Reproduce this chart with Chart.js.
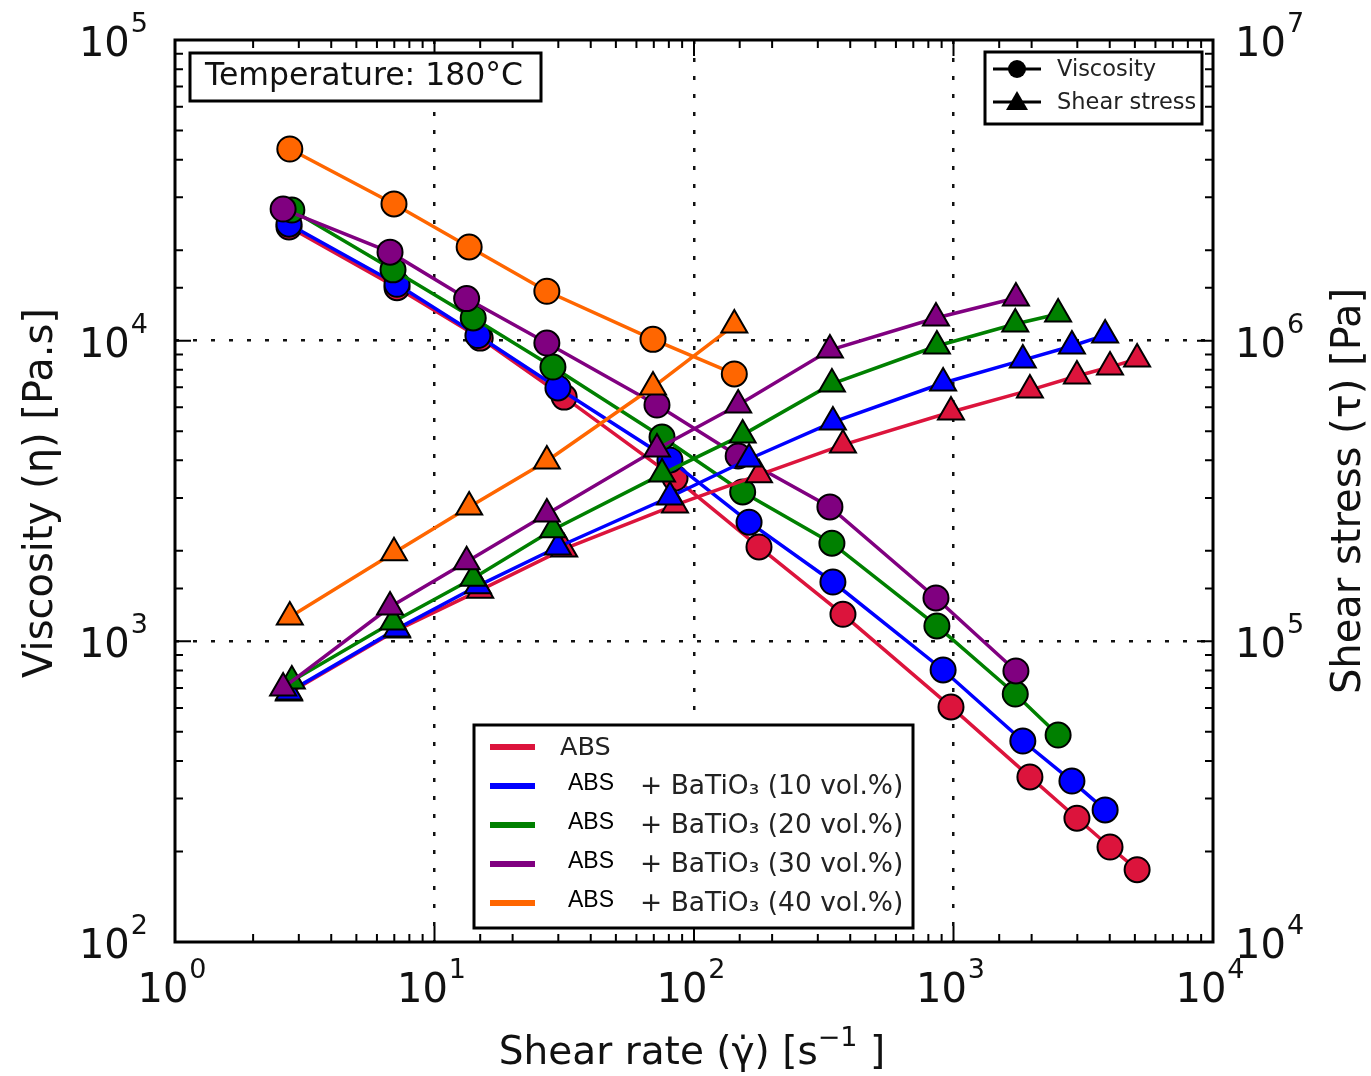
<!DOCTYPE html>
<html>
<head>
<meta charset="utf-8">
<script src="https://cdn.jsdelivr.net/npm/chart.js@4/dist/chart.umd.min.js"></script>
<style>
  html, body { margin: 0; padding: 0; background: #fff; }
  #wrap { width: 1371px; height: 1076px; }
</style>
</head>
<body>
<div id="wrap"><canvas id="rheoChart" width="1371" height="1076"></canvas></div>
<script>
// --- data (180 °C capillary rheometry) ---
const materials = ['ABS', 'ABS + BaTiO₃ (10 vol.%)', 'ABS + BaTiO₃ (20 vol.%)', 'ABS + BaTiO₃ (30 vol.%)', 'ABS + BaTiO₃ (40 vol.%)'];
const colors = ['#DC143C', '#0000FF', '#008000', '#800080', '#FF6600'];

// shear rate [1/s]
const rateAbs   = [2.75, 7.17, 15.0, 31.6, 84.5, 178, 375, 978, 1970, 2990, 4010, 5100];
const rate10    = [2.75, 7.17, 14.7, 29.9, 80.8, 163, 343, 912, 1850, 2860, 3840];
const rate20    = [2.82, 6.92, 14.1, 28.6, 75.3, 154, 340, 863, 1730, 2530];
const rate30    = [2.61, 6.74, 13.3, 27.1, 72.0, 148, 334, 856, 1740];
const rate40    = [2.77, 6.98, 13.6, 27.1, 69.5, 143];

// viscosity [Pa.s]
const viscAbs   = [23900, 15000, 10200, 6490, 3490, 2060, 1230, 605, 354, 258, 207, 174];
const visc10    = [24400, 15400, 10400, 6960, 4010, 2490, 1575, 803, 466, 343, 275];
const visc20    = [27200, 17200, 11900, 8170, 4780, 3140, 2120, 1125, 668, 488];
const visc30    = [27400, 19700, 13800, 9820, 6110, 4135, 2800, 1394, 797];
const visc40    = [43400, 28500, 20500, 14600, 10100, 7750];

// shear stress [Pa]
const stressAbs = [67300, 109000, 148000, 203000, 284000, 358000, 450000, 579000, 685000, 763000, 817000, 869000];
const stress10  = [67900, 110000, 153000, 206000, 302000, 404000, 536000, 723000, 862000, 960000, 1044000];
const stress20  = [73800, 116000, 162000, 235000, 360000, 486000, 718000, 960000, 1136000, 1227000];
const stress30  = [70000, 130000, 184000, 265000, 436000, 611000, 931000, 1190000, 1386000];
const stress40  = [120500, 197000, 280000, 398000, 701000, 1127000];

const xTicks = [1, 10, 100, 1000, 10000];
const yTicks = [100, 1000, 10000, 100000];
const y2Ticks = [10000, 100000, 1000000, 10000000];

const rates = [rateAbs, rate10, rate20, rate30, rate40];
const viscs = [viscAbs, visc10, visc20, visc30, visc40];
const stresses = [stressAbs, stress10, stress20, stress30, stress40];

function isDecade(v) {
  const e = Math.round(Math.log10(v));
  return Math.abs(v - Math.pow(10, e)) < 1e-6 * v;
}

function pts(xs, ys) {
  return xs.map((x, i) => ({ x: x, y: ys[i] }));
}

const datasets = [];
// triangles (shear stress) drawn above circles; later material on top
for (let i = 0; i < materials.length; i++) {
  datasets.push({
    label: materials[i] + ' viscosity',
    data: pts(rates[i], viscs[i]),
    yAxisID: 'y',
    showLine: true,
    borderColor: colors[i],
    backgroundColor: colors[i],
    borderWidth: 3.5,
    pointStyle: 'circle',
    pointRadius: 12.5,
    pointBorderColor: '#000',
    pointBorderWidth: 2,
    pointBackgroundColor: colors[i],
    order: 9 - i
  });
  datasets.push({
    label: materials[i] + ' shear stress',
    data: pts(rates[i], stresses[i]),
    yAxisID: 'y2',
    showLine: true,
    borderColor: colors[i],
    backgroundColor: colors[i],
    borderWidth: 3.5,
    pointStyle: 'triangle',
    pointRadius: 15,
    pointBorderColor: '#000',
    pointBorderWidth: 2,
    pointBackgroundColor: colors[i],
    order: 4 - i
  });
}

const gridDotted = {
  drawTicks: false,
  lineWidth: 2.5,
  color: (c) => (c.tick && isDecade(c.tick.value) && c.index !== 0 && c.index !== c.scale.ticks.length - 1) ? '#111' : 'rgba(0,0,0,0)'
};

function zeroPad(s) {
  s.paddingTop = 0; s.paddingBottom = 0; s.paddingLeft = 0; s.paddingRight = 0;
}

// "10" with a raised exponent, like matplotlib's mathtext labels
function drawPow(ctx, text, exp, x, baseline, align) {
  ctx.font = '40px "DejaVu Sans"';
  const w1 = ctx.measureText(text).width;
  ctx.font = '27px "DejaVu Sans"';
  const w2 = ctx.measureText(exp).width;
  const total = w1 + w2 + 1;
  let x0 = x;
  if (align === 'center') x0 = x - total / 2;
  if (align === 'right') x0 = x - total;
  ctx.textAlign = 'left';
  ctx.textBaseline = 'alphabetic';
  ctx.font = '40px "DejaVu Sans"';
  ctx.fillText(text, x0, baseline);
  ctx.font = '27px "DejaVu Sans"';
  ctx.fillText(exp, x0 + w1 + 1, baseline - 24);
}

// frame, inward ticks, tick labels, titles, legends, annotation box
const decorPlugin = {
  id: 'decor',
  afterDraw(chart) {
    const ctx = chart.ctx;
    const a = chart.chartArea;
    const sx = chart.scales.x, sy = chart.scales.y, sy2 = chart.scales.y2;
    ctx.save();
    ctx.strokeStyle = '#000';
    ctx.lineWidth = 2;
    ctx.beginPath();
    sx.ticks.forEach(t => {
      const p = sx.getPixelForValue(t.value);
      const len = isDecade(t.value) ? 16 : 8;
      ctx.moveTo(p, a.bottom); ctx.lineTo(p, a.bottom - len);
      ctx.moveTo(p, a.top); ctx.lineTo(p, a.top + len);
    });
    sy.ticks.forEach(t => {
      const p = sy.getPixelForValue(t.value);
      const len = isDecade(t.value) ? 16 : 8;
      ctx.moveTo(a.left, p); ctx.lineTo(a.left + len, p);
    });
    sy2.ticks.forEach(t => {
      const p = sy2.getPixelForValue(t.value);
      const len = isDecade(t.value) ? 16 : 8;
      ctx.moveTo(a.right, p); ctx.lineTo(a.right - len, p);
    });
    ctx.stroke();

    ctx.lineWidth = 3;
    ctx.strokeRect(a.left, a.top, a.right - a.left, a.bottom - a.top);

    // tick labels
    ctx.fillStyle = '#111';
    xTicks.forEach(v => drawPow(ctx, '10', String(Math.round(Math.log10(v))), sx.getPixelForValue(v) - 3, a.bottom + 60, 'center'));
    yTicks.forEach(v => drawPow(ctx, '10', String(Math.round(Math.log10(v))), a.left - 27, sy.getPixelForValue(v) + 16, 'right'));
    y2Ticks.forEach(v => drawPow(ctx, '10', String(Math.round(Math.log10(v))), a.right + 22, sy2.getPixelForValue(v) + 16, 'left'));

    // axis titles
    ctx.font = '39px "DejaVu Sans"';
    const xt1 = 'Shear rate (γ̇) [s', xt2 = '−1', xt3 = ' ]';
    const w1 = ctx.measureText(xt1).width;
    const w3 = ctx.measureText(xt3).width;
    ctx.font = '27px "DejaVu Sans"';
    const w2 = ctx.measureText(xt2).width;
    let x0 = (a.left + a.right) / 2 - 2 - (w1 + w2 + w3) / 2;
    ctx.textAlign = 'left';
    ctx.textBaseline = 'alphabetic';
    ctx.font = '39px "DejaVu Sans"';
    ctx.fillText(xt1, x0, 1064);
    ctx.font = '27px "DejaVu Sans"';
    ctx.fillText(xt2, x0 + w1, 1064 - 18);
    ctx.font = '39px "DejaVu Sans"';
    ctx.fillText(xt3, x0 + w1 + w2, 1064);

    ctx.font = '40px "DejaVu Sans"';
    ctx.textAlign = 'center';
    ctx.save();
    ctx.translate(52, (a.top + a.bottom) / 2 + 2);
    ctx.rotate(-Math.PI / 2);
    ctx.fillText('Viscosity (η) [Pa.s]', 0, 0);
    ctx.restore();
    ctx.save();
    ctx.translate(1360, (a.top + a.bottom) / 2);
    ctx.rotate(-Math.PI / 2);
    ctx.fillText('Shear stress (τ) [Pa]', 0, 0);
    ctx.restore();

    // temperature box
    ctx.textAlign = 'left';
    ctx.fillStyle = '#fff';
    ctx.fillRect(190, 53, 351, 48);
    ctx.lineWidth = 3;
    ctx.strokeRect(190, 53, 351, 48);
    ctx.fillStyle = '#111';
    ctx.font = '31.5px "DejaVu Sans"';
    ctx.textBaseline = 'middle';
    ctx.fillText('Temperature: 180°C', 205, 77);

    // marker legend
    ctx.fillStyle = '#fff';
    ctx.fillRect(985, 52, 217, 72);
    ctx.strokeRect(985, 52, 217, 72);
    ctx.lineWidth = 3;
    ctx.beginPath();
    ctx.moveTo(993, 69); ctx.lineTo(1041, 69);
    ctx.moveTo(993, 102); ctx.lineTo(1041, 102);
    ctx.stroke();
    ctx.fillStyle = '#000';
    ctx.beginPath();
    ctx.arc(1017, 69, 9, 0, Math.PI * 2);
    ctx.fill();
    ctx.beginPath();
    ctx.moveTo(1017, 91); ctx.lineTo(1028, 110); ctx.lineTo(1006, 110); ctx.closePath();
    ctx.fill();
    ctx.fillStyle = '#222';
    ctx.font = '22.5px "DejaVu Sans"';
    ctx.fillText('Viscosity', 1057, 70);
    ctx.fillText('Shear stress', 1057, 103);

    // material legend
    ctx.fillStyle = '#fff';
    ctx.fillRect(474, 725, 439, 203);
    ctx.strokeStyle = '#000';
    ctx.lineWidth = 3;
    ctx.strokeRect(474, 725, 439, 203);
    const rowY = [747, 786, 825, 864, 903];
    for (let i = 0; i < materials.length; i++) {
      ctx.strokeStyle = colors[i];
      ctx.lineWidth = 6;
      ctx.beginPath();
      ctx.moveTo(490, rowY[i]); ctx.lineTo(535, rowY[i]);
      ctx.stroke();
      if (i === 0) {
        ctx.fillStyle = '#222';
        ctx.font = '25.5px "DejaVu Sans"';
        ctx.fillText('ABS', 560, rowY[i] + 1);
      } else {
        ctx.fillStyle = '#000';
        ctx.font = '23px "Liberation Sans"';
        ctx.fillText('ABS', 568, rowY[i] - 2);
        ctx.fillStyle = '#222';
        ctx.font = '26.5px "DejaVu Sans"';
        ctx.fillText('+ BaTiO₃ (' + (i * 10) + ' vol.%)', 640, rowY[i] + 1);
      }
    }
    ctx.restore();
  }
};

const ctx = document.getElementById('rheoChart').getContext('2d');
const rheoChart = new Chart(ctx, {
  type: 'scatter',
  data: { datasets: datasets },
  options: {
    responsive: false,
    animation: false,
    devicePixelRatio: 1,
    layout: { padding: { top: 40, left: 0, right: 0, bottom: 0 } },
    plugins: { legend: { display: false }, tooltip: { enabled: false } },
    scales: {
      x: {
        type: 'logarithmic',
        position: 'bottom',
        min: xTicks[0],
        max: xTicks[xTicks.length - 1],
        afterFit: (s) => { s.height = 134; zeroPad(s); },
        border: { display: false, dash: [4, 14] },
        grid: gridDotted,
        ticks: { display: false, autoSkip: false }
      },
      y: {
        type: 'logarithmic',
        position: 'left',
        min: yTicks[0],
        max: yTicks[yTicks.length - 1],
        afterFit: (s) => { s.width = 175; zeroPad(s); },
        border: { display: false, dash: [4, 14] },
        grid: gridDotted,
        ticks: { display: false, autoSkip: false }
      },
      y2: {
        type: 'logarithmic',
        position: 'right',
        min: y2Ticks[0],
        max: y2Ticks[y2Ticks.length - 1],
        afterFit: (s) => { s.width = 158; zeroPad(s); },
        border: { display: false },
        grid: { display: false, drawTicks: false },
        ticks: { display: false, autoSkip: false }
      }
    }
  },
  plugins: [decorPlugin]
});
</script>
</body>
</html>
